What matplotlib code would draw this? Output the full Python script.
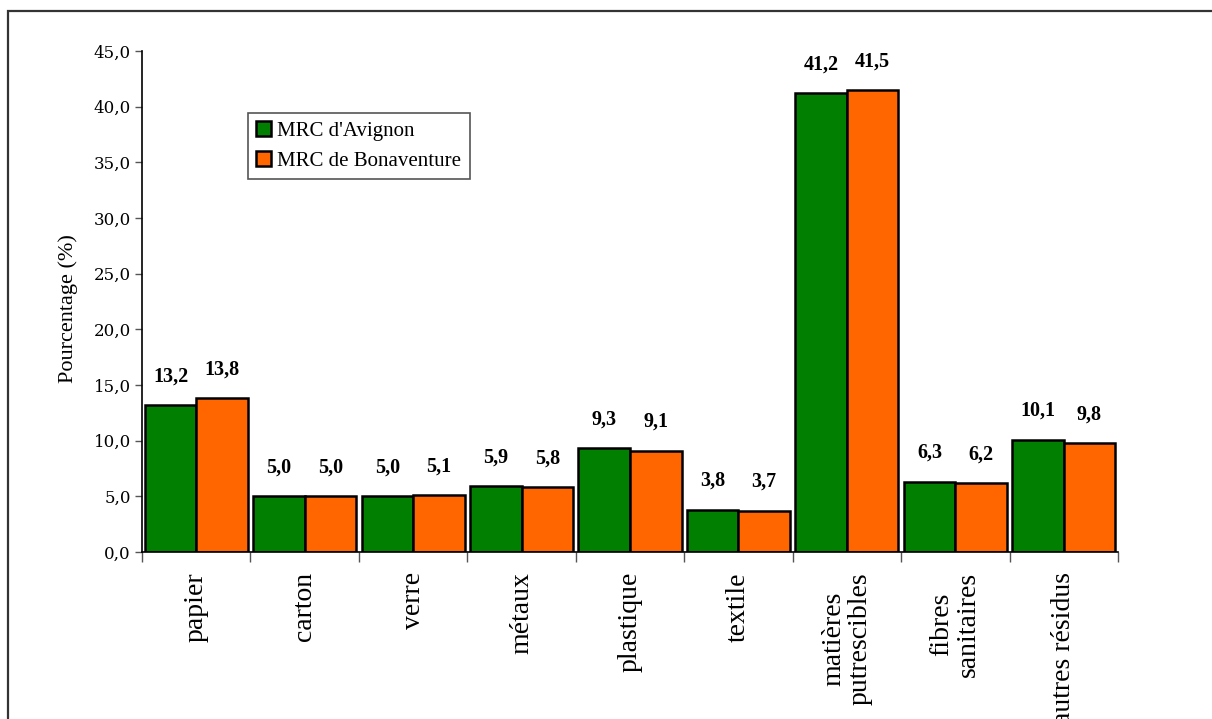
import numpy as np
import matplotlib
matplotlib.use("Agg")
import matplotlib.pyplot as plt
from matplotlib.patches import Rectangle
from matplotlib.ticker import FuncFormatter

categories = ["papier", "carton", "verre", "métaux", "plastique", "textile",
              "matières\nputrescibles", "fibres\nsanitaires", "autres résidus"]
avignon = [13.2, 5.0, 5.0, 5.9, 9.3, 3.8, 41.2, 6.3, 10.1]
bonaventure = [13.8, 5.0, 5.1, 5.8, 9.1, 3.7, 41.5, 6.2, 9.8]
series_names = ["MRC d'Avignon", "MRC de Bonaventure"]

green = "#007F00"
orange = "#FF6600"

fig = plt.figure(figsize=(12.12, 7.19), dpi=100)
ax = fig.add_axes([0.1172, 0.2323, 0.9224 - 0.1172, 0.9291 - 0.2323])

# outer frame, cut off on the right and bottom like the source
fig.patches.append(Rectangle((8 / 1212, -0.2), 1.2, 1 - 11 / 719 + 0.2,
                             transform=fig.transFigure, fill=False,
                             edgecolor="#333333", linewidth=1.6))

x = np.arange(len(categories))
w = 0.475
b1 = ax.bar(x - w / 2, avignon, w, color=green, edgecolor="black", linewidth=1.8,
            label=series_names[0])
b2 = ax.bar(x + w / 2, bonaventure, w, color=orange, edgecolor="black", linewidth=1.8,
            label=series_names[1])

def fmt(v):
    return ("%.1f" % v).replace(".", ",")

for bars, vals in ((b1, avignon), (b2, bonaventure)):
    for r, v in zip(bars, vals):
        ax.annotate(fmt(v), (r.get_x() + r.get_width() / 2, v),
                    xytext=(0, 13.5), textcoords="offset points",
                    ha="center", va="bottom", fontsize=14.5, fontweight="bold",
                    family="Liberation Serif")

ax.set_xlim(-0.5, len(categories) - 0.5)
ax.set_ylim(0, 45)
ax.set_yticks(np.arange(0, 46, 5))
ax.yaxis.set_major_formatter(FuncFormatter(lambda v, p: fmt(v)))
ax.tick_params(axis="y", length=5, width=1, color="#555555", pad=3,
               labelsize=12, labelfontfamily="DejaVu Serif")

ax.set_xticks(np.arange(len(categories) + 1) - 0.5)
ax.set_xticklabels([])
ax.tick_params(axis="x", length=7, width=1, color="#555555")
for i, c in enumerate(categories):
    ax.text(i, -1.8, c, rotation=90, ha="center", va="top", multialignment="center",
            fontsize=20, family="Liberation Serif", linespacing=1.1)

ax.set_ylabel("Pourcentage (%)", fontsize=16, family="Liberation Serif")
ax.yaxis.set_label_coords(-0.066, 0.485)

for s in ("top", "right"):
    ax.spines[s].set_visible(False)
ax.spines["left"].set_linewidth(1.2)
ax.spines["bottom"].set_linewidth(1.2)

leg = ax.legend(loc="upper left", bbox_to_anchor=(0.1086, 0.8762), borderaxespad=0,
                fancybox=False, edgecolor="#555555", framealpha=1,
                handlelength=0.7, handleheight=0.7, handletextpad=0.3,
                borderpad=0.4, labelspacing=0.5,
                prop={"family": "Liberation Serif", "size": 15})
leg.get_frame().set_linewidth(1.2)
for h in leg.legend_handles:
    h.set_linewidth(1.8)

fig.savefig("out.png", dpi=100)
